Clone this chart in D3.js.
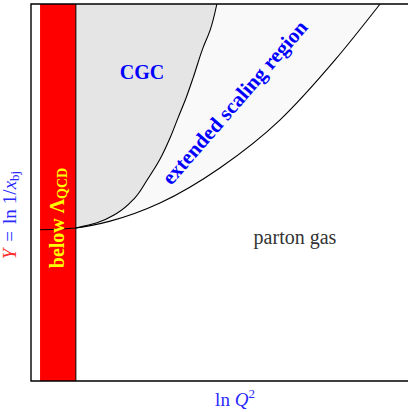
<!DOCTYPE html>
<html>
<head>
<meta charset="utf-8">
<script src="https://cdn.jsdelivr.net/npm/d3@7"></script>
<style>
  body { margin: 0; background: #fff; }
  svg text { font-family: "Liberation Serif", "DejaVu Serif", serif; }
</style>
</head>
<body>
<div id="chart"></div>
<script>
// frame in data units: ln Q^2 and Y both run 0..10
const xDomain = [0, 10];
const yDomain = [0, 10];

// non-perturbative strip (below Lambda_QCD)
const lambdaBand = [0.24, 1.19];

// saturation line Q_s^2(Y)
const satLine = [
  [0.24, 4.01], [1.19, 4.06], [2.10, 4.24], [3.42, 4.72],
  [5.01, 5.65], [6.60, 6.92], [8.06, 8.51], [9.26, 10.0]
];

// boundary of the CGC region
const cgcLine = [
  [1.19, 4.06], [1.75, 4.20], [2.28, 4.45], [2.74, 4.84],
  [3.08, 5.33], [3.42, 5.88], [3.69, 6.45], [3.90, 6.98],
  [4.11, 7.50], [4.30, 8.04], [4.56, 8.83], [4.75, 9.30], [4.93, 10.0]
];

const width = 408, height = 412;
const margin = { left: 31, top: 4, right: 0, bottom: 31 };

const svg = d3.select("#chart").append("svg")
  .attr("width", width)
  .attr("height", height);

const x = d3.scaleLinear().domain(xDomain).range([margin.left, margin.left + 377]);
const y = d3.scaleLinear().domain(yDomain).range([margin.top + 377, margin.top]);

const satCurve = d3.line().x(d => x(d[0])).y(d => y(d[1])).curve(d3.curveMonotoneX);
const cgcCurve = d3.line().x(d => x(d[0])).y(d => y(d[1])).curve(d3.curveMonotoneY);

// extended scaling region: everything above the saturation line
const satRight = satLine.filter(d => d[0] >= lambdaBand[1]);
svg.append("path")
  .attr("d", satCurve(satRight) +
    `L${x(lambdaBand[1])},${y(yDomain[1])}Z`)
  .attr("fill", "#f9f9f9");

// CGC region: left of the CGC boundary
svg.append("path")
  .attr("d", cgcCurve(cgcLine) +
    `L${x(lambdaBand[1])},${y(yDomain[1])}Z`)
  .attr("fill", "#e5e5e5");

// red band
svg.append("rect")
  .attr("x", x(lambdaBand[0]))
  .attr("y", y(yDomain[1]))
  .attr("width", x(lambdaBand[1]) - x(lambdaBand[0]))
  .attr("height", y(yDomain[0]) - y(yDomain[1]))
  .attr("fill", "#ff0000");

svg.append("line")
  .attr("x1", x(lambdaBand[1])).attr("x2", x(lambdaBand[1]))
  .attr("y1", y(yDomain[0])).attr("y2", y(yDomain[1]))
  .attr("stroke", "#000").attr("stroke-width", 1);

// boundary curves
svg.append("path").attr("d", satCurve(satLine))
  .attr("fill", "none").attr("stroke", "#000").attr("stroke-width", 1.1);
svg.append("path").attr("d", cgcCurve(cgcLine))
  .attr("fill", "none").attr("stroke", "#000").attr("stroke-width", 1.1);

// axes frame (no right side)
svg.append("path")
  .attr("d", `M${x(xDomain[1])},${y(yDomain[1])}H${x(xDomain[0])}V${y(yDomain[0])}H${x(xDomain[1])}`)
  .attr("fill", "none").attr("stroke", "#000").attr("stroke-width", 1.4);

// region labels
svg.append("text")
  .attr("x", 142).attr("y", 79)
  .attr("text-anchor", "middle")
  .attr("font-size", 20).attr("font-weight", "bold")
  .attr("fill", "#0000ff")
  .text("CGC");

svg.append("text")
  .attr("transform", "translate(240,107) rotate(-49)")
  .attr("text-anchor", "middle")
  .attr("font-size", 21).attr("font-weight", "bold")
  .attr("fill", "#0000ff")
  .text("extended scaling region");

svg.append("text")
  .attr("x", 295).attr("y", 244)
  .attr("text-anchor", "middle")
  .attr("font-size", 20)
  .attr("fill", "#333")
  .text("parton gas");

const below = svg.append("text")
  .attr("transform", "translate(64,218) rotate(-90)")
  .attr("text-anchor", "middle")
  .attr("font-size", 20).attr("font-weight", "bold")
  .attr("fill", "#ffff00");
below.append("tspan").text("below \u039B");
below.append("tspan").attr("font-size", 14).attr("dy", 3).text("QCD");

// axis titles
const xt = svg.append("text")
  .attr("x", 235).attr("y", 406)
  .attr("text-anchor", "middle")
  .attr("font-size", 19)
  .attr("fill", "#2a2aff");
xt.append("tspan").text("ln ");
xt.append("tspan").attr("font-style", "italic").text("Q");
xt.append("tspan").attr("font-size", 13).attr("dy", -8).text("2");

const yt = svg.append("text")
  .attr("transform", "translate(16,215) rotate(-90)")
  .attr("text-anchor", "middle")
  .attr("font-size", 19)
  .attr("fill", "#2a2aff");
yt.append("tspan").attr("font-style", "italic").attr("fill", "#ff2a2a").text("Y");
yt.append("tspan").attr("dx", 7).text("=");
yt.append("tspan").attr("dx", 7).text("ln");
yt.append("tspan").attr("dx", 5).text("1/");
yt.append("tspan").attr("font-style", "italic").text("x");
yt.append("tspan").attr("font-size", 13).attr("dy", 3).text("bj");
</script>
</body>
</html>
